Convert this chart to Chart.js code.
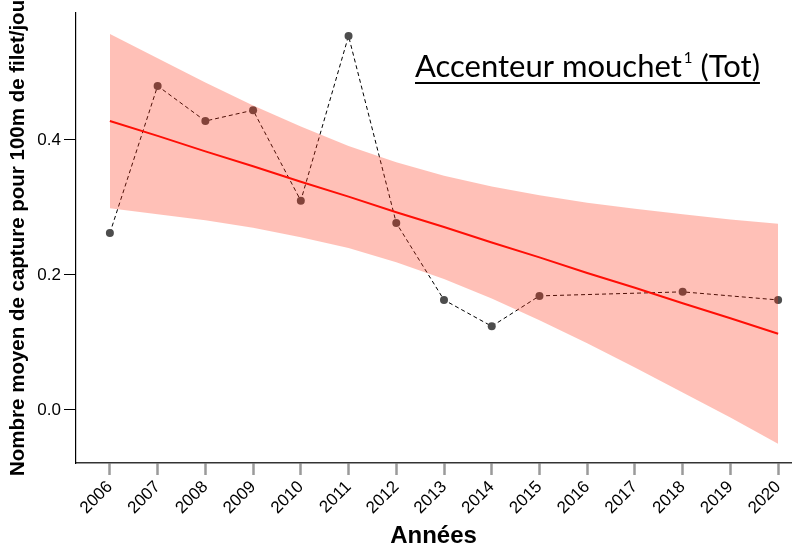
<!DOCTYPE html>
<html>
<head>
<meta charset="utf-8">
<script src="https://cdn.jsdelivr.net/npm/chart.js@4"></script>
<style>
  html, body { margin: 0; padding: 0; background: #fff; }
</style>
</head>
<body>
<canvas id="captureChart" width="795" height="544"></canvas>
<script>
// Années de suivi
const annees = [2006, 2007, 2008, 2009, 2010, 2011, 2012, 2013, 2014, 2015, 2016, 2017, 2018, 2019, 2020];
// Captures moyennes pour 100m de filet/jour (null = pas de suivi)
const capture = [0.262, 0.480, 0.428, 0.444, 0.310, 0.554, 0.277, 0.163, 0.124, 0.169, null, null, 0.175, null, 0.163];
// Tendance linéaire et intervalle de confiance
const tendance = [0.428, 0.406, 0.383, 0.361, 0.338, 0.316, 0.293, 0.271, 0.248, 0.226, 0.203, 0.181, 0.158, 0.136, 0.113];
const bandeHaute = [0.557, 0.521, 0.485, 0.451, 0.420, 0.391, 0.367, 0.347, 0.331, 0.318, 0.307, 0.298, 0.290, 0.282, 0.276];
const bandeBasse = [0.299, 0.290, 0.281, 0.270, 0.256, 0.240, 0.219, 0.194, 0.165, 0.133, 0.099, 0.063, 0.026, -0.011, -0.050];
// Graduations de l'axe vertical
const yTicks = [0.0, 0.2, 0.4];

const toPoints = (vals) => annees.map((a, i) => ({ x: a, y: vals[i] }));

// titre souligné dans le graphique + titre de l'axe Y
const titrePlugin = {
  id: "titrePlugin",
  afterDraw(chart) {
    const ctx = chart.ctx;
    ctx.save();
    ctx.fillStyle = "#000";
    ctx.textBaseline = "alphabetic";
    ctx.textAlign = "left";
    const x0 = 415, base = 77;
    ctx.font = "31px Lato";
    const p1 = "Accenteur mouchet";
    ctx.fillText(p1, x0, base);
    let x = x0 + ctx.measureText(p1).width + 2;
    ctx.font = "15px Lato";
    ctx.fillText("1", x, base - 14);
    x += ctx.measureText("1").width;
    ctx.font = "31px Lato";
    const p2 = " (Tot)";
    ctx.fillText(p2, x, base);
    x += ctx.measureText(p2).width;
    ctx.strokeStyle = "#000";
    ctx.lineWidth = 2;
    ctx.beginPath();
    ctx.moveTo(x0, base + 6);
    ctx.lineTo(x, base + 6);
    ctx.stroke();

    // titre axe Y (coupé en haut)
    ctx.translate(18, 476);
    ctx.rotate(-Math.PI / 2);
    ctx.font = "bold 20.5px 'Liberation Sans'";
    ctx.textBaseline = "middle";
    ctx.fillText("Nombre moyen de capture pour 100m de filet/jour", 0, 0);
    ctx.restore();
  },
};

const ctx = document.getElementById("captureChart").getContext("2d");

new Chart(ctx, {
  type: "line",
  data: {
    datasets: [
      {
        label: "IC haut",
        data: toPoints(bandeHaute),
        borderWidth: 0,
        pointRadius: 0,
        fill: "+1",
        backgroundColor: "rgba(255, 48, 18, 0.3)",
        order: 0,
      },
      {
        label: "IC bas",
        data: toPoints(bandeBasse),
        borderWidth: 0,
        pointRadius: 0,
        fill: false,
        order: 1,
      },
      {
        label: "Tendance",
        data: toPoints(tendance),
        borderColor: "#ff0000",
        borderWidth: 2,
        pointRadius: 0,
        fill: false,
        order: 2,
      },
      {
        label: "Capture",
        data: toPoints(capture),
        borderColor: "#000",
        borderWidth: 1,
        borderDash: [4, 3],
        pointRadius: 4,
        pointBackgroundColor: "#4d4d4d",
        pointBorderWidth: 0,
        spanGaps: true,
        fill: false,
        order: 3,
      },
    ],
  },
  options: {
    responsive: false,
    animation: false,
    layout: { padding: { top: 13, left: 0, right: 0, bottom: 0 } },
    scales: {
      x: {
        type: "linear",
        min: 2005.29,
        max: 2020.27,
        afterBuildTicks: (scale) => {
          scale.ticks = annees.map((v) => ({ value: v }));
        },
        afterFit: (scale) => {
          scale.height = 81;
          scale.paddingLeft = 0;
          scale.paddingRight = 0;
        },
        ticks: {
          autoSkip: false,
          maxRotation: 45,
          minRotation: 45,
          padding: 2,
          color: "#000",
          font: { family: "'Liberation Sans'", size: 17 },
          callback: (v) => String(v),
        },
        grid: {
          drawOnChartArea: false,
          tickLength: 12,
          tickColor: "#9a9a9a",
          tickWidth: 2.5,
        },
        border: { color: "#333", width: 1.5 },
        title: {
          display: true,
          text: "Années",
          color: "#000",
          font: { family: "'Liberation Sans'", size: 24, weight: "bold", lineHeight: 0.8 },
          padding: { top: 0, bottom: -2 },
        },
      },
      y: {
        min: -0.0785,
        max: 0.588,
        afterBuildTicks: (scale) => {
          scale.ticks = yTicks.map((v) => ({ value: v }));
        },
        afterFit: (scale) => {
          scale.width = 76;
          scale.paddingTop = 0;
          scale.paddingBottom = 0;
        },
        ticks: {
          padding: 3,
          color: "#000",
          font: { family: "'Liberation Sans'", size: 17 },
          callback: (v) => v.toFixed(1),
        },
        grid: {
          drawOnChartArea: false,
          tickLength: 12,
          tickColor: "#000",
          tickWidth: 1,
        },
        border: { color: "#000", width: 1.2 },
      },
    },
    plugins: {
      legend: { display: false },
      tooltip: { enabled: false },
    },
  },
  plugins: [titrePlugin],
});
</script>
</body>
</html>
